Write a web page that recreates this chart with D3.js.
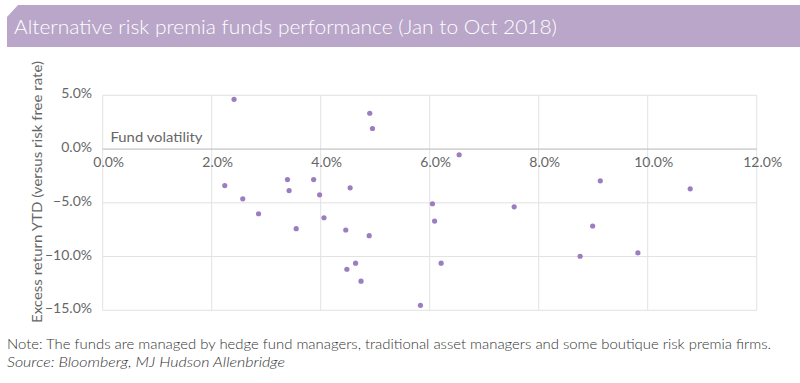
<!DOCTYPE html>
<html>
<head>
<meta charset="utf-8">
<script src="https://cdnjs.cloudflare.com/ajax/libs/d3/7.8.5/d3.min.js"></script>
<style>
  body { margin: 0; background: #fff; }
  text { font-family: Lato, "Open Sans", sans-serif; }
</style>
</head>
<body>
<div id="chart"></div>
<script>
    // fund volatility (%) and excess return YTD (%)
    var volatility = [2.41, 4.90, 4.95, 2.24, 2.57, 2.86, 3.39, 3.42, 3.87, 3.98,
        4.54, 3.55, 4.06, 4.46, 4.89, 4.48, 4.64, 4.74, 6.54, 9.13,
        10.78, 6.05, 6.09, 7.55, 8.99, 8.76, 9.82, 6.21, 5.83];
    var excessReturn = [4.63, 3.33, 1.91, -3.40, -4.63, -6.02, -2.84, -3.86, -2.84, -4.26,
        -3.61, -7.41, -6.39, -7.53, -8.06, -11.18, -10.62, -12.29, -0.53, -2.96,
        -3.70, -5.09, -6.70, -5.37, -7.16, -9.97, -9.66, -10.62, -14.54];
    var xTicks = [0, 2, 4, 6, 8, 10, 12];
    var yTicks = [5, 0, -5, -10, -15];

    var svgWidth = 800;
    var svgHeight = 383;

    var svg = d3.select("#chart")
        .append("svg")
        .attr("width", svgWidth)
        .attr("height", svgHeight);

    // title bar with clipped corner
    svg.append("path")
        .attr("d", "M7,17 L18,5 L800,5 L800,47 L7,47 Z")
        .attr("fill", "#b9a6c9");

    svg.append("text")
        .attr("x", 14)
        .attr("y", 34)
        .attr("fill", "#fff")
        .attr("font-size", "20px")
        .attr("font-weight", 300)
        .attr("textLength", 543)
        .attr("lengthAdjust", "spacingAndGlyphs")
        .text("Alternative risk premia funds performance (Jan to Oct 2018)");

    var xScale = d3.scaleLinear().domain([0, 12]).range([102.7, 756.7]);
    var yScale = d3.scaleLinear().domain([-15, 5]).range([310.3, 95.3]);

    var grid = svg.append("g");
    grid.selectAll(".vg")
        .data(xTicks)
        .enter()
        .append("line")
        .attr("x1", d => xScale(d))
        .attr("x2", d => xScale(d))
        .attr("y1", yScale(5))
        .attr("y2", yScale(-15))
        .attr("stroke", "#e2e2e2")
        .attr("stroke-width", 1);
    grid.selectAll(".hg")
        .data(yTicks)
        .enter()
        .append("line")
        .attr("x1", xScale(0))
        .attr("x2", xScale(12))
        .attr("y1", d => yScale(d))
        .attr("y2", d => yScale(d))
        .attr("stroke", d => d === 0 ? "#c4c4c4" : "#e2e2e2")
        .attr("stroke-width", d => d === 0 ? 1.3 : 1);

    // y tick labels
    svg.append("g").selectAll("text")
        .data(yTicks)
        .enter()
        .append("text")
        .attr("x", 92)
        .attr("y", d => yScale(d) + 3)
        .attr("text-anchor", "end")
        .attr("font-size", "14px")
        .attr("fill", "#666")
        .text(d => d3.format(".1f")(d) + "%");

    // x tick labels sit under the zero line
    svg.append("g").selectAll("text")
        .data(xTicks)
        .enter()
        .append("text")
        .attr("x", d => xScale(d) + 6)
        .attr("y", yScale(0) + 18)
        .attr("text-anchor", "middle")
        .attr("font-size", "14px")
        .attr("fill", "#666")
        .text(d => d3.format(".1f")(d) + "%");

    svg.append("text")
        .attr("x", 110.5)
        .attr("y", 141.5)
        .attr("font-size", "13px")
        .attr("fill", "#666")
        .attr("textLength", 92)
        .attr("lengthAdjust", "spacingAndGlyphs")
        .text("Fund volatility");

    svg.append("text")
        .attr("transform", "translate(42, 192) rotate(-90)")
        .attr("text-anchor", "middle")
        .attr("font-size", "14px")
        .attr("fill", "#666")
        .attr("textLength", 262)
        .attr("lengthAdjust", "spacingAndGlyphs")
        .text("Excess return YTD (versus risk free rate)");

    svg.append("g").selectAll("circle")
        .data(volatility)
        .enter()
        .append("circle")
        .attr("cx", d => xScale(d))
        .attr("cy", (d, i) => yScale(excessReturn[i]))
        .attr("r", 2.6)
        .attr("fill", "#9b7dc0");

    svg.append("text")
        .attr("x", 7)
        .attr("y", 349)
        .attr("font-size", "14px")
        .attr("font-weight", 300)
        .attr("fill", "#333")
        .attr("textLength", 764)
        .attr("lengthAdjust", "spacingAndGlyphs")
        .text("Note: The funds are managed by hedge fund managers, traditional asset managers and some boutique risk premia firms.");

    svg.append("text")
        .attr("x", 7)
        .attr("y", 367)
        .attr("font-size", "14px")
        .attr("font-style", "italic")
        .attr("font-weight", 300)
        .attr("fill", "#333")
        .attr("textLength", 278)
        .attr("lengthAdjust", "spacingAndGlyphs")
        .text("Source: Bloomberg, MJ Hudson Allenbridge");
</script>
</body>
</html>
